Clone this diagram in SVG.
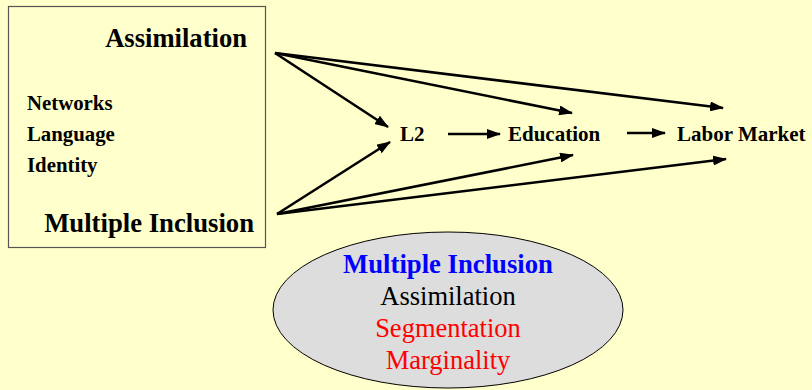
<svg xmlns="http://www.w3.org/2000/svg" width="812" height="390" viewBox="0 0 812 390">
<style>
.b{font-family:'Liberation Serif',serif;font-weight:700;fill:#000}
.r{font-family:'Liberation Serif',serif;font-weight:400;fill:#000}
.c{stroke:#000;stroke-width:2.6;fill:none;marker-end:url(#ah)}
</style>
<defs>
<marker id="ah" markerUnits="userSpaceOnUse" markerWidth="14" markerHeight="10" viewBox="0 0 14 10" refX="13" refY="5" orient="auto">
<path d="M0,0 L14,5 L0,10 Z" fill="#000"/>
</marker>
</defs>
<rect width="812" height="390" fill="#FFFFCC"/>
<g id="factors">
<rect x="8.5" y="6.5" width="257" height="241" fill="#FFFFCC" stroke="#555" stroke-width="1.2"/>
<text class="b" x="247" y="47" font-size="26.6" text-anchor="end">Assimilation</text>
<text class="b" x="27" y="110" font-size="20.8">Networks</text>
<text class="b" x="27" y="141" font-size="20.8">Language</text>
<text class="b" x="27" y="172" font-size="20.8">Identity</text>
<text class="b" x="254" y="232" font-size="26.7" text-anchor="end">Multiple Inclusion</text>
</g>
<g id="l2"><text class="b" x="400" y="141" font-size="21">L2</text></g>
<g id="education"><text class="b" x="508" y="141" font-size="21">Education</text></g>
<g id="labor"><text class="b" x="677" y="141" font-size="21">Labor Market</text></g>
<g id="outcomes">
<ellipse cx="448" cy="310" rx="175" ry="78" fill="#DDDDDD" stroke="#000" stroke-width="1"/>
<text class="b" x="448" y="273" font-size="26.7" text-anchor="middle" style="fill:#0000FF">Multiple Inclusion</text>
<text class="r" x="448" y="305" font-size="26.5" text-anchor="middle">Assimilation</text>
<text class="r" x="448" y="337" font-size="26.5" text-anchor="middle" style="fill:#FF0000">Segmentation</text>
<text class="r" x="448" y="369" font-size="26.5" text-anchor="middle" style="fill:#FF0000">Marginality</text>
</g>
<g id="connectors">
<line class="c" x1="275" y1="53" x2="388" y2="127"/>
<line class="c" x1="275" y1="53" x2="572" y2="113"/>
<line class="c" x1="275" y1="53" x2="723" y2="108"/>
<line class="c" x1="277" y1="214" x2="390" y2="142"/>
<line class="c" x1="277" y1="214" x2="573" y2="155"/>
<line class="c" x1="277" y1="214" x2="726" y2="159"/>
<line class="c" x1="448" y1="134" x2="500" y2="134"/>
<line class="c" x1="627" y1="133" x2="665" y2="133"/>
</g>
</svg>
